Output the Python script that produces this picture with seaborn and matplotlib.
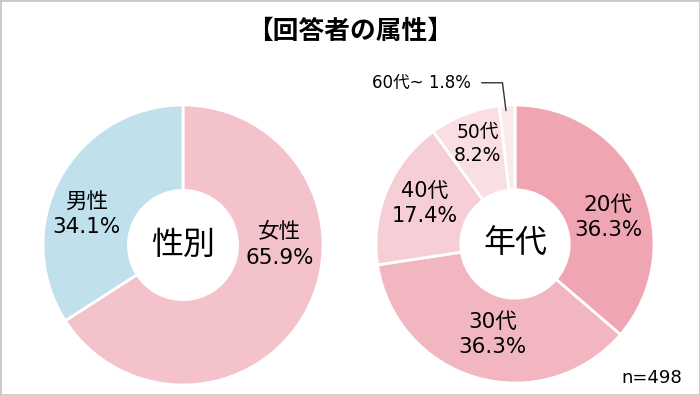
import matplotlib
matplotlib.use("Agg")
import matplotlib.pyplot as plt
import seaborn as sns
from matplotlib.patches import Rectangle

# data
gender_labels = ["女性", "男性"]
gender_values = [65.9, 34.1]
gender_colors = ["#f4c2cb", "#c0e0eb"]

age_labels = ["20代", "30代", "40代", "50代", "60代~"]
age_values = [36.3, 36.3, 17.4, 8.2, 1.8]
age_colors = ["#f0a6b2", "#f2b6c0", "#f6cfd6", "#f9dfe3", "#fbeaed"]

n_total = 498

sns.set_theme(style="white")
# DejaVu for latin/digits (wide, Meiryo-like), Noto CJK for kanji
plt.rcParams['font.family'] = ['DejaVu Sans', 'Noto Sans CJK JP']
plt.rcParams['text.color'] = 'black'

W, H = 700, 395
fig = plt.figure(figsize=(7, 3.95), dpi=100)
fig.patch.set_facecolor("white")


def donut_axes(cx, cy, r):
    # pixel coords (origin top-left) -> figure fraction
    return fig.add_axes([(cx - r) / W, (H - cy - r) / H, 2 * r / W, 2 * r / H])


def draw_donut(ax, values, colors, center_text):
    ax.pie(values, colors=colors, startangle=90, counterclock=False,
           radius=1, wedgeprops=dict(width=0.61, edgecolor="white", linewidth=2))
    ax.set_xlim(-1, 1)
    ax.set_ylim(-1, 1)
    ax.set_aspect("equal")
    ax.axis("off")
    ax.text(0, 0, center_text, ha="center", va="center", fontsize=23)


ax1 = donut_axes(183, 245, 140)
draw_donut(ax1, gender_values, gender_colors, "性別")
gender_pos = [(0.69, 0.0), (-0.69, 0.22)]
for lab, v, (x, y) in zip(gender_labels, gender_values, gender_pos):
    ax1.text(x, y, f"{lab}\n{v}%", ha="center", va="center", fontsize=15.5,
             linespacing=1.35)

ax2 = donut_axes(515, 244, 139)
draw_donut(ax2, age_values, age_colors, "年代")
age_pos = [(0.67, 0.19), (-0.16, -0.65), (-0.65, 0.29), (-0.27, 0.72)]
age_sizes = [15.5, 15.5, 15, 13.5]
for lab, v, (x, y), fs in zip(age_labels[:4], age_values[:4], age_pos, age_sizes):
    ax2.text(x, y, f"{lab}\n{v}%", ha="center", va="center", fontsize=fs,
             linespacing=1.3)

# small slice with leader line
ax2.text(-0.67, 1.16, f"{age_labels[4]} {age_values[4]}%", ha="center",
         va="center", fontsize=12, clip_on=False)
ax2.plot([-0.24, -0.09, -0.065], [1.16, 1.16, 0.96], color="#333333",
         linewidth=1, clip_on=False)

fig.text(0.5, (H - 32) / H, "【回答者の属性】", ha="center", va="center",
         fontsize=18.5, fontweight="bold")
fig.text(652 / W, (H - 378) / H, f"n={n_total}", ha="center",
         va="center", fontsize=13)

fig.patches.append(Rectangle((0, 0), 1, 1, transform=fig.transFigure,
                             fill=False, edgecolor="#c8c8c8", linewidth=2))

fig.savefig("out.png", dpi=100)
